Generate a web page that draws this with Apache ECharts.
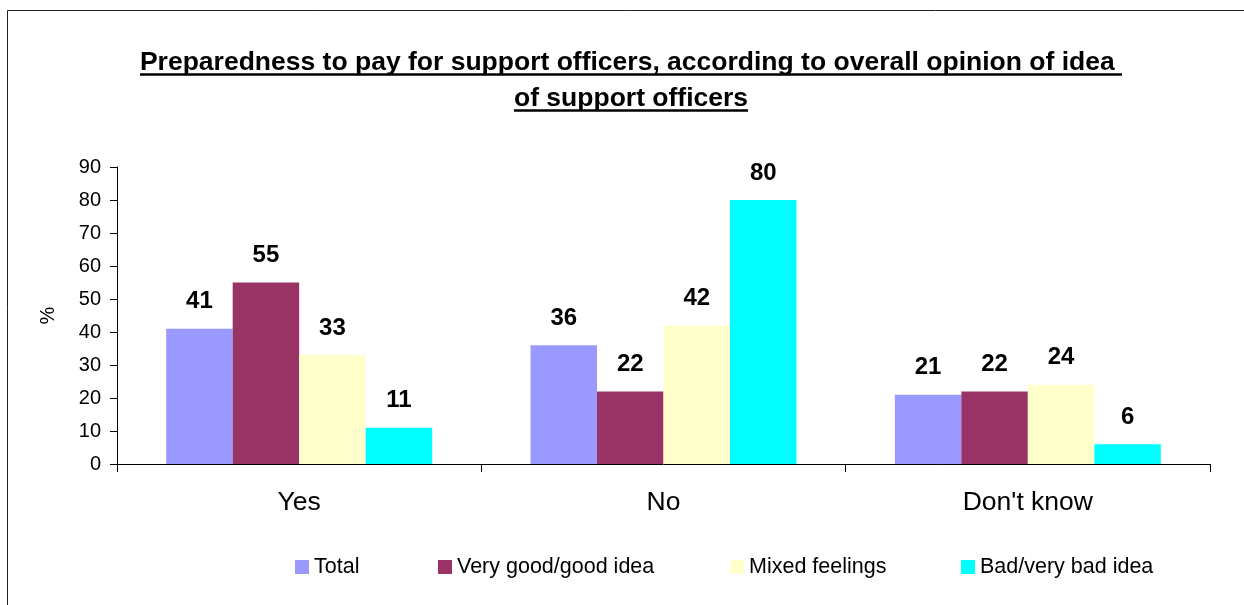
<!DOCTYPE html>
<html>
<head>
<meta charset="utf-8">
<title>Preparedness to pay for support officers</title>
<script src="https://cdn.jsdelivr.net/npm/echarts@6/dist/echarts.min.js"></script>
<style>
  html, body { margin: 0; padding: 0; background: #fff; }
  #chart { width: 1244px; height: 605px; }
</style>
</head>
<body>
<div id="chart"></div>
<script>
// Answers to "would you pay for support officers?"
const categories = ['Yes', 'No', "Don't know"];
const seriesNames = ['Total', 'Very good/good idea', 'Mixed feelings', 'Bad/very bad idea'];
const total = [41, 36, 21];
const veryGoodIdea = [55, 22, 22];
const mixedFeelings = [33, 42, 24];
const badIdea = [11, 80, 6];
const yTicks = { min: 0, max: 90, interval: 10 };

const titleLines = [
  'Preparedness to pay for support officers, according to overall opinion of idea ',
  'of support officers'
];

const FONT = '"Liberation Sans", Arial, Helvetica, sans-serif';
const colors = ['#9999FF', '#993366', '#FFFFCC', '#00FFFF'];
const values = [total, veryGoodIdea, mixedFeelings, badIdea];

// measure title lines so the underline matches the text width
const ctx = document.createElement('canvas').getContext('2d');
ctx.font = 'bold 26.5px ' + FONT;
const titleCenterX = 631;
const titleBaselines = [72, 108];
const titleGraphics = [];
titleLines.forEach((line, i) => {
  const w = ctx.measureText(line).width;
  titleGraphics.push({
    type: 'text',
    x: titleCenterX,
    y: titleBaselines[i] - 9,
    style: {
      text: line,
      font: 'bold 26.5px ' + FONT,
      fill: '#000',
      align: 'center',
      verticalAlign: 'middle'
    }
  });
  titleGraphics.push({
    type: 'line',
    shape: {
      x1: titleCenterX - w / 2, y1: titleBaselines[i] + 2.5,
      x2: titleCenterX + w / 2, y2: titleBaselines[i] + 2.5
    },
    style: { stroke: '#000', lineWidth: 2.5 }
  });
});

const legendLefts = [295, 438, 730, 961];

const chart = echarts.init(document.getElementById('chart'), null, { renderer: 'canvas' });
chart.setOption({
  backgroundColor: '#fff',
  animation: false,
  textStyle: { fontFamily: FONT },
  graphic: [
    {
      type: 'rect',
      shape: { x: 7.5, y: 10.5, width: 1400, height: 800 },
      style: { fill: 'none', stroke: '#222', lineWidth: 1 },
      silent: true,
      z: -10
    }
  ].concat(titleGraphics),
  legend: seriesNames.map((name, i) => ({
    data: [name],
    left: legendLefts[i],
    top: 556,
    padding: 0,
    itemWidth: 14,
    itemHeight: 14,
    itemGap: 5,
    icon: 'rect',
    textStyle: { fontSize: 21.5, color: '#000', fontFamily: FONT },
    selectedMode: false
  })),
  grid: { left: 117, right: 34, top: 167, bottom: 141, containLabel: false },
  xAxis: {
    type: 'category',
    data: categories,
    axisLine: { lineStyle: { color: '#000', width: 1 } },
    axisTick: { show: true, length: 8, lineStyle: { color: '#000' } },
    axisLabel: { fontSize: 26.5, color: '#000', margin: 25, fontFamily: FONT }
  },
  yAxis: {
    type: 'value',
    min: yTicks.min,
    max: yTicks.max,
    interval: yTicks.interval,
    name: '%',
    nameLocation: 'middle',
    nameRotate: 90,
    nameGap: 59,
    nameTextStyle: { fontSize: 20, color: '#000', fontFamily: FONT },
    axisLine: { show: true, lineStyle: { color: '#000', width: 1 } },
    axisTick: { show: true, length: 7, lineStyle: { color: '#000' } },
    axisLabel: { fontSize: 20, color: '#000', margin: 16, fontFamily: FONT },
    splitLine: { show: false }
  },
  series: seriesNames.map((name, i) => ({
    name,
    type: 'bar',
    data: values[i],
    barGap: '0%',
    barCategoryGap: '27%',
    itemStyle: { color: colors[i] },
    label: {
      show: true,
      position: 'top',
      distance: 15,
      fontSize: 24,
      fontWeight: 'bold',
      color: '#000',
      fontFamily: FONT
    }
  }))
});
</script>
</body>
</html>
